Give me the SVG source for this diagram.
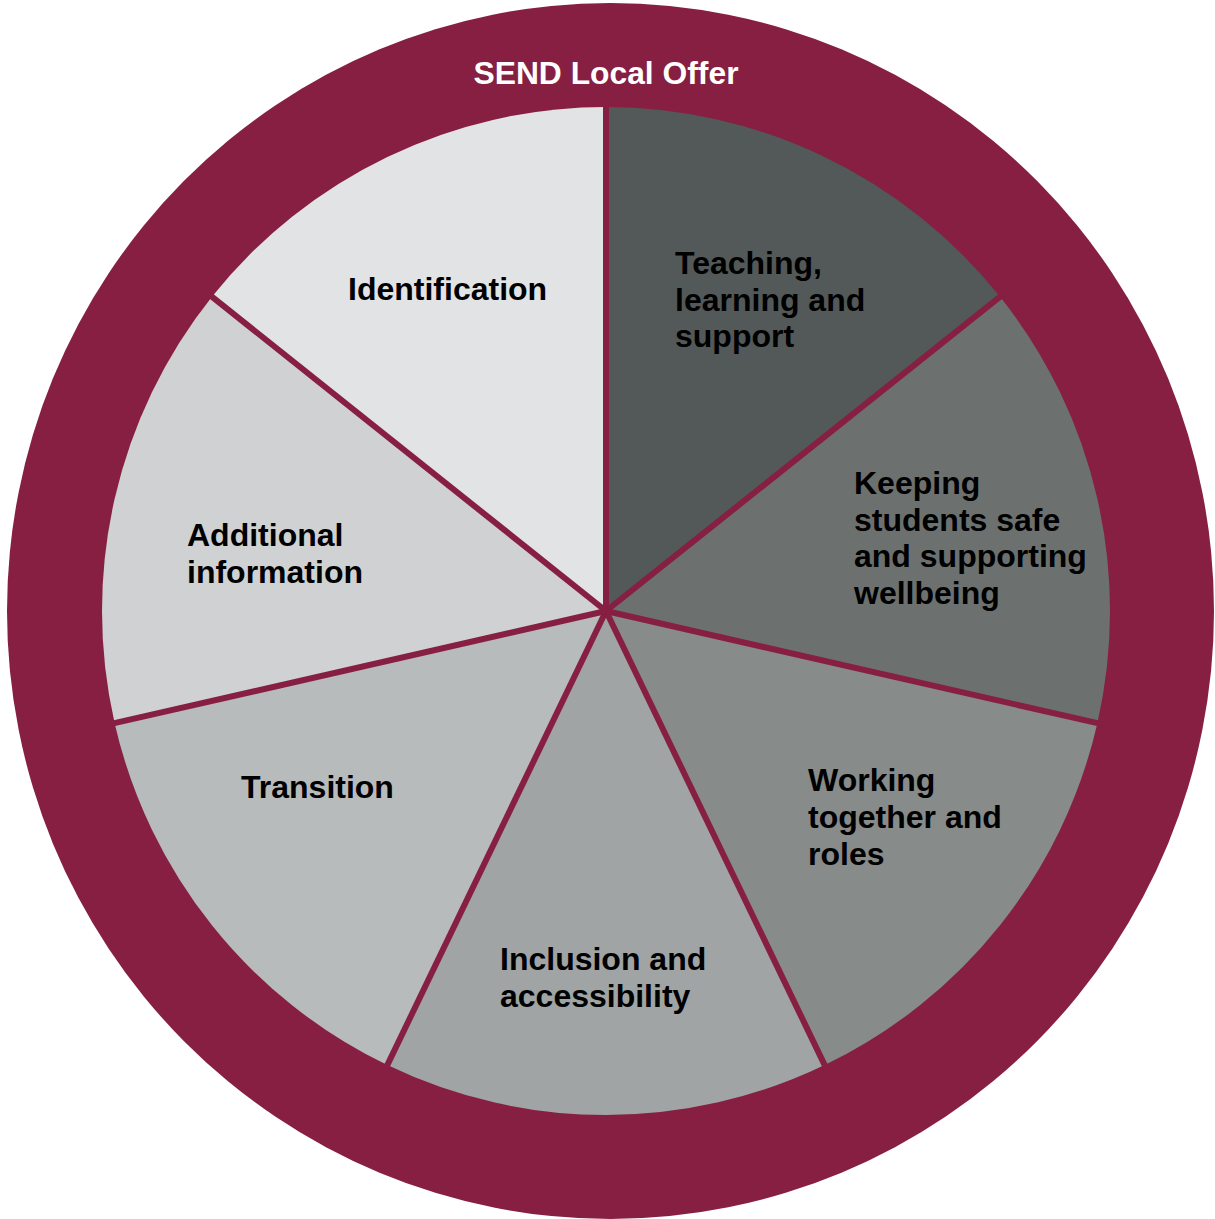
<svg xmlns="http://www.w3.org/2000/svg" width="1215" height="1219" viewBox="0 0 1215 1219">
<style>
.lbl{font-family:"Liberation Sans",Arial,sans-serif;font-weight:bold;font-size:32px;fill:#000000}
.title{font-family:"Liberation Sans",Arial,sans-serif;font-weight:bold;font-size:31.8px;fill:#ffffff}
.div{stroke:#861f41;stroke-width:6;fill:none}
</style>
<rect width="1215" height="1219" fill="#ffffff"/>
<g id="ring">
<ellipse cx="610.5" cy="611" rx="603.5" ry="608" fill="#861f41"/>
<text class="title" x="606" y="84" text-anchor="middle">SEND Local Offer</text>
</g>
<g id="teaching">
<path d="M606,611 L606,107 A504,504 0 0 1 1000.04,296.76 Z" fill="#535858"/>
<text class="lbl" x="675" y="274">Teaching,</text>
<text class="lbl" x="675" y="311">learning and</text>
<text class="lbl" x="675" y="347">support</text>
</g>
<g id="keeping">
<path d="M606,611 L1000.04,296.76 A504,504 0 0 1 1097.36,723.15 Z" fill="#6c7170"/>
<text class="lbl" x="854" y="494">Keeping</text>
<text class="lbl" x="854" y="531">students safe</text>
<text class="lbl" x="854" y="567">and supporting</text>
<text class="lbl" x="854" y="604">wellbeing</text>
</g>
<g id="working">
<path d="M606,611 L1097.36,723.15 A504,504 0 0 1 824.68,1065.09 Z" fill="#878b8a"/>
<text class="lbl" x="808" y="791">Working</text>
<text class="lbl" x="808" y="828">together and</text>
<text class="lbl" x="808" y="865">roles</text>
</g>
<g id="inclusion">
<path d="M606,611 L824.68,1065.09 A504,504 0 0 1 387.32,1065.09 Z" fill="#a0a4a4"/>
<text class="lbl" x="500" y="970">Inclusion and</text>
<text class="lbl" x="500" y="1007">accessibility</text>
</g>
<g id="transition">
<path d="M606,611 L387.32,1065.09 A504,504 0 0 1 114.64,723.15 Z" fill="#b8bbbb"/>
<text class="lbl" x="241" y="798">Transition</text>
</g>
<g id="additional">
<path d="M606,611 L114.64,723.15 A504,504 0 0 1 211.96,296.76 Z" fill="#d0d1d2"/>
<text class="lbl" x="187" y="546">Additional</text>
<text class="lbl" x="187" y="583">information</text>
</g>
<g id="identification">
<path d="M606,611 L211.96,296.76 A504,504 0 0 1 606,107 Z" fill="#e2e3e4"/>
<text class="lbl" x="348" y="300">Identification</text>
</g>
<g id="dividers">
<line class="div" x1="606" y1="611" x2="606" y2="100"/>
<line class="div" x1="606" y1="611" x2="1005.5" y2="292.4"/>
<line class="div" x1="606" y1="611" x2="1104.2" y2="724.7"/>
<line class="div" x1="606" y1="611" x2="827.7" y2="1071.4"/>
<line class="div" x1="606" y1="611" x2="384.3" y2="1071.4"/>
<line class="div" x1="606" y1="611" x2="107.8" y2="724.7"/>
<line class="div" x1="606" y1="611" x2="206.5" y2="292.4"/>
</g>
</svg>
